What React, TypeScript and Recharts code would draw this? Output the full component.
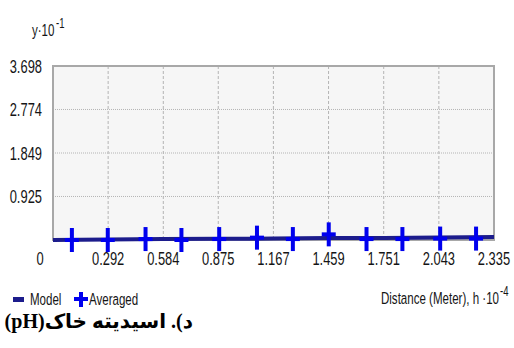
import {
  CartesianGrid,
  ComposedChart,
  Line,
  ReferenceArea,
  Scatter,
  XAxis,
  YAxis,
} from 'recharts'

const X_TICKS = [0, 0.292, 0.584, 0.875, 1.167, 1.459, 1.751, 2.043, 2.335]
const Y_TICKS = [0.925, 1.849, 2.774, 3.698]

const MODEL_X = [0, 0.292, 0.584, 0.875, 1.167, 1.459, 1.751, 2.043, 2.335]
const MODEL_Y = [0.0, 0.01, 0.02, 0.025, 0.03, 0.04, 0.045, 0.055, 0.065]

const AVG_X = [0.1, 0.29, 0.49, 0.68, 0.88, 1.08, 1.27, 1.46, 1.66, 1.85, 2.05, 2.24]
const AVG_Y = [0.0, 0.0, 0.02, 0.0, 0.02, 0.05, 0.02, 0.12, 0.02, 0.02, 0.03, 0.03]

const modelData = MODEL_X.map((x, i) => ({ x, y: MODEL_Y[i] }))
const avgData = AVG_X.map((x, i) => ({ x, y: AVG_Y[i] }))

const FONT = '"Liberation Sans", Arial, sans-serif'
const SQUEEZE = 0.68
const TEXT_COLOR = '#151515'
const MODEL_COLOR = '#1c1c8c'
const AVG_COLOR = '#0000ee'
const GRID_COLOR = '#b4b4b4'

function Plus(props: any) {
  const { cx, cy } = props
  if (cx == null || cy == null) return null
  return (
    <g fill={AVG_COLOR}>
      <rect x={cx - 2} y={cy - 12} width={4} height={24} />
      <rect x={cx - 7} y={cy - 2} width={14} height={4} />
    </g>
  )
}

// narrow text: Arial squeezed horizontally, like Arial Narrow
function Narrow({ x, y, anchor = 'start', size = 19, children }: any) {
  return (
    <text
      transform={`translate(${x},${y}) scale(${SQUEEZE},1)`}
      textAnchor={anchor}
      fill={TEXT_COLOR}
      fontSize={size}
      fontFamily={FONT}
    >
      {children}
    </text>
  )
}

function XTick(props: any) {
  const { x, y, payload } = props
  const dx = payload.value === 0 ? -13 : 0
  return (
    <Narrow x={x + dx} y={y + 15} anchor="middle">
      {payload.value === 0 ? '0' : payload.value.toFixed(3)}
    </Narrow>
  )
}

function YTick(props: any) {
  const { x, y, payload } = props
  return (
    <Narrow x={x} y={y + 7} anchor="end">
      {payload.value.toFixed(3)}
    </Narrow>
  )
}

export default function App() {
  return (
    <div style={{ position: 'relative', width: 514, height: 348, background: '#fff' }}>
      <style>{'body{margin:0}'}</style>
      <ComposedChart
        width={514}
        height={348}
        margin={{ top: 66, right: 20, bottom: 78, left: 0 }}
      >
        <CartesianGrid fill="#f6f6f6" horizontal={false} stroke={GRID_COLOR} strokeDasharray="3 2" />
        <CartesianGrid horizontal vertical={false} stroke={GRID_COLOR} strokeDasharray="1 1" />
        <XAxis
          dataKey="x"
          type="number"
          domain={[0, 2.335]}
          ticks={X_TICKS}
          height={30}
          axisLine={false}
          tickLine={false}
          tick={<XTick />}
          tickMargin={4}
          interval={0}
        />
        <YAxis
          dataKey="y"
          type="number"
          domain={[0, 3.698]}
          ticks={Y_TICKS}
          width={53}
          axisLine={false}
          tickLine={false}
          tick={<YTick />}
          tickMargin={5}
          interval={0}
        />
        <ReferenceArea x1={0} x2={2.335} y1={0} y2={3.698} fill="none" stroke="#a8a8a8" strokeWidth={2} />
        <Line
          data={modelData}
          dataKey="y"
          type="linear"
          stroke={MODEL_COLOR}
          strokeWidth={4}
          dot={false}
          isAnimationActive={false}
        />
        <Scatter data={avgData} dataKey="y" shape={<Plus />} isAnimationActive={false} />
      </ComposedChart>

      <svg width={514} height={348} style={{ position: 'absolute', left: 0, top: 0, pointerEvents: 'none' }}>
        <Narrow x={32} y={36} size={17}>
          y·10
        </Narrow>
        <Narrow x={56} y={28} size={14}>
          -1
        </Narrow>

        <rect x={13} y={297} width={11} height={5} fill={MODEL_COLOR} />
        <Narrow x={30} y={305} size={17}>
          Model
        </Narrow>
        <rect x={79} y={292} width={4} height={15} fill={AVG_COLOR} />
        <rect x={74} y={297} width={14} height={4} fill={AVG_COLOR} />
        <Narrow x={89} y={305} size={17}>
          Averaged
        </Narrow>

        <Narrow x={499} y={304} size={17} anchor="end">
          Distance (Meter), h ·10
        </Narrow>
        <Narrow x={500} y={296} size={14}>
          -4
        </Narrow>
      </svg>

      <div
        style={{
          position: 'absolute',
          left: 3,
          top: 309,
          width: 190,
          direction: 'rtl',
          textAlign: 'right',
          whiteSpace: 'nowrap',
          fontFamily: '"Liberation Serif", "DejaVu Sans", serif',
          fontWeight: 'bold',
          fontSize: 20,
          color: '#000',
        }}
      >
        د). اسیدیته خاک(pH)
      </div>
    </div>
  )
}
